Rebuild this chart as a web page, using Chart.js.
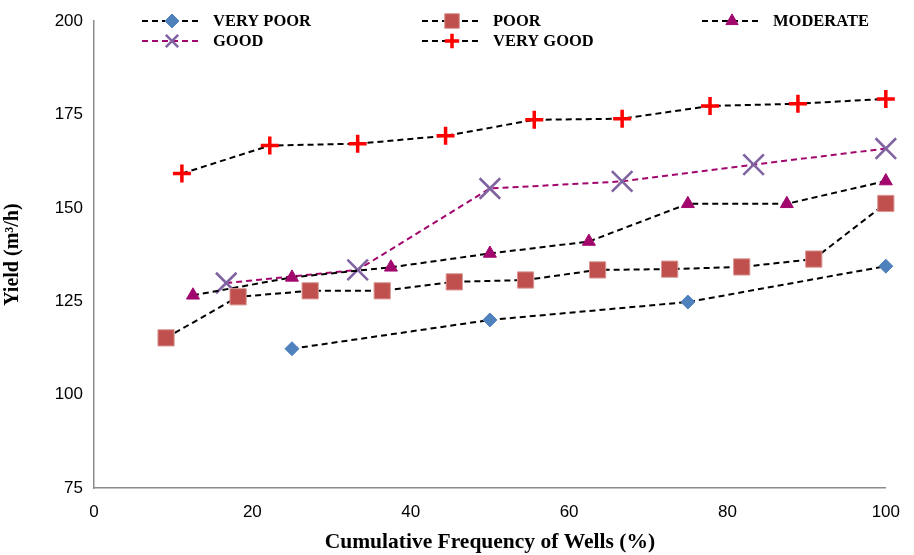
<!DOCTYPE html>
<html>
<head>
<meta charset="utf-8">
<script src="https://cdn.jsdelivr.net/npm/chart.js@4.4.1/dist/chart.umd.min.js"></script>
<style>
html,body{margin:0;padding:0;background:#fff;}
#wrap{width:914px;height:555px;position:relative;}
</style>
</head>
<body>
<div id="wrap"><canvas id="c" width="914" height="555"></canvas></div>
<script>
// ---- data ----
const seriesNames = ['VERY POOR', 'POOR', 'MODERATE', 'GOOD', 'VERY GOOD'];
const veryPoorX = [25, 50, 75, 100];
const veryPoorY = [112.3, 120.0, 124.8, 134.4];
const poorX = [9.1, 18.2, 27.3, 36.4, 45.5, 54.5, 63.6, 72.7, 81.8, 90.9, 100];
const poorY = [115.2, 126.2, 127.8, 127.8, 130.2, 130.7, 133.4, 133.6, 134.2, 136.3, 151.2];
const moderateX = [12.5, 25, 37.5, 50, 62.5, 75, 87.5, 100];
const moderateY = [126.6, 131.4, 134.1, 137.8, 141.0, 151.1, 151.1, 157.2];
const goodX = [16.7, 33.3, 50, 66.7, 83.3, 100];
const goodY = [129.9, 133.4, 155.2, 157.1, 161.6, 165.9];
const veryGoodX = [11.1, 22.2, 33.3, 44.4, 55.6, 66.7, 77.8, 88.9, 100];
const veryGoodY = [159.2, 166.7, 167.2, 169.3, 173.6, 173.9, 177.3, 177.9, 179.2];
const xTicks = [0, 20, 40, 60, 80, 100];
const yTicks = [75, 100, 125, 150, 175, 200];

function pts(xs, ys){ return xs.map((x,i)=>({x:x, y:ys[i]})); }

const styles = [
  {shape:'rectRot', color:'#4F81BD', border:'#4F81BD', r:7, bw:1, line:'#000000'},
  {shape:'rect', color:'#C0504D', border:'#DA9A98', r:11.5, bw:1, line:'#000000'},
  {shape:'triangle', color:'#A2076E', border:'#A2076E', r:7.5, bw:1, line:'#000000'},
  {shape:'crossRot', color:'#8064A2', border:'#8064A2', r:14.5, bw:2.6, line:'#A2076E'},
  {shape:'cross', color:'#FF0000', border:'#FF0000', r:9, bw:3.5, line:'#000000'}
];
const dataArr = [pts(veryPoorX,veryPoorY), pts(poorX,poorY), pts(moderateX,moderateY), pts(goodX,goodY), pts(veryGoodX,veryGoodY)];

const datasets = seriesNames.map((n,i)=>({
  label:n,
  data:dataArr[i],
  showLine:true,
  borderColor:styles[i].line,
  borderWidth:2,
  borderDash:[6,4],
  pointStyle:styles[i].shape,
  pointRadius:styles[i].r,
  pointHoverRadius:styles[i].r,
  pointBackgroundColor:styles[i].color,
  pointBorderColor:styles[i].border,
  pointBorderWidth:styles[i].bw,
  clip:false,
  tension:0
}));

function drawMarker(ctx, s, x, y, scale){
  const r = s.r*scale;
  ctx.save();
  ctx.fillStyle = s.color; ctx.strokeStyle = s.border; ctx.lineWidth = s.bw;
  ctx.beginPath();
  if(s.shape==='rectRot'){
    ctx.moveTo(x-r,y); ctx.lineTo(x,y-r); ctx.lineTo(x+r,y); ctx.lineTo(x,y+r); ctx.closePath(); ctx.fill(); ctx.stroke();
  } else if(s.shape==='rect'){
    const h = r*Math.SQRT1_2; ctx.rect(x-h,y-h,2*h,2*h); ctx.fill(); ctx.stroke();
  } else if(s.shape==='triangle'){
    ctx.moveTo(x, y - r);
    ctx.lineTo(x + Math.sin(2*Math.PI/3)*r, y - Math.cos(2*Math.PI/3)*r);
    ctx.lineTo(x + Math.sin(4*Math.PI/3)*r, y - Math.cos(4*Math.PI/3)*r);
    ctx.closePath(); ctx.fill(); ctx.stroke();
  } else if(s.shape==='crossRot'){
    const h = r*Math.SQRT1_2;
    ctx.moveTo(x-h,y-h); ctx.lineTo(x+h,y+h); ctx.moveTo(x+h,y-h); ctx.lineTo(x-h,y+h); ctx.stroke();
  } else if(s.shape==='cross'){
    ctx.moveTo(x-r,y); ctx.lineTo(x+r,y); ctx.moveTo(x,y-r); ctx.lineTo(x,y+r); ctx.stroke();
  }
  ctx.restore();
}

const legendPos = [
  {x:142, y:21}, {x:422, y:21}, {x:702, y:21},
  {x:142, y:41}, {x:422, y:41}
];
const legendScale = [1.0, 0.9, 0.95, 0.6, 0.8];

const legendPlugin = {
  id:'customLegend',
  afterDraw(chart){
    const ctx = chart.ctx;
    seriesNames.forEach((n,i)=>{
      const p = legendPos[i], s = styles[i];
      ctx.save();
      ctx.strokeStyle = s.line; ctx.lineWidth = 2; ctx.setLineDash([6,4]);
      ctx.beginPath(); ctx.moveTo(p.x, p.y); ctx.lineTo(p.x+58, p.y); ctx.stroke();
      ctx.restore();
      drawMarker(ctx, s, p.x+30, p.y, legendScale[i]);
      ctx.save();
      ctx.fillStyle = '#000';
      ctx.font = 'bold 16.5px "Liberation Serif", "Times New Roman", serif';
      ctx.textBaseline = 'middle';
      ctx.textAlign = 'left';
      ctx.fillText(n, p.x+71, p.y+1);
      ctx.restore();
    });
  }
};

new Chart(document.getElementById('c'), {
  type:'scatter',
  data:{datasets:datasets},
  options:{
    responsive:false,
    animation:false,
    layout:{padding:{left:0, right:27, top:19, bottom:0}},
    plugins:{legend:{display:false}, tooltip:{enabled:false}},
    scales:{
      x:{
        type:'linear', min:0, max:100,
        afterBuildTicks(scale){ scale.ticks = xTicks.map(v=>({value:v})); },
        afterFit(scale){ scale.height = 67; },
        grid:{display:false, drawTicks:false},
        border:{display:true, color:'#8C8C8C', width:1.5},
        ticks:{padding:14, color:'#000', font:{family:'"Liberation Sans", Arial, sans-serif', size:17}},
        title:{display:true, text:'Cumulative Frequency of Wells (%)', color:'#000',
          font:{family:'"Liberation Serif", "Times New Roman", serif', size:21.5, weight:'bold'}, padding:{top:0,bottom:0}}
      },
      y:{
        type:'linear', min:75, max:200,
        afterBuildTicks(scale){ scale.ticks = yTicks.map(v=>({value:v})); },
        afterFit(scale){ scale.width = 94; },
        grid:{display:false, drawTicks:false},
        border:{display:true, color:'#8C8C8C', width:1.5},
        ticks:{padding:11, color:'#000', font:{family:'"Liberation Sans", Arial, sans-serif', size:17}},
        title:{display:true, text:'Yield (m³/h)', color:'#000',
          font:{family:'"Liberation Serif", "Times New Roman", serif', size:20, weight:'bold'}, padding:{top:1,bottom:0}}
      }
    }
  },
  plugins:[legendPlugin]
});
</script>
</body>
</html>
